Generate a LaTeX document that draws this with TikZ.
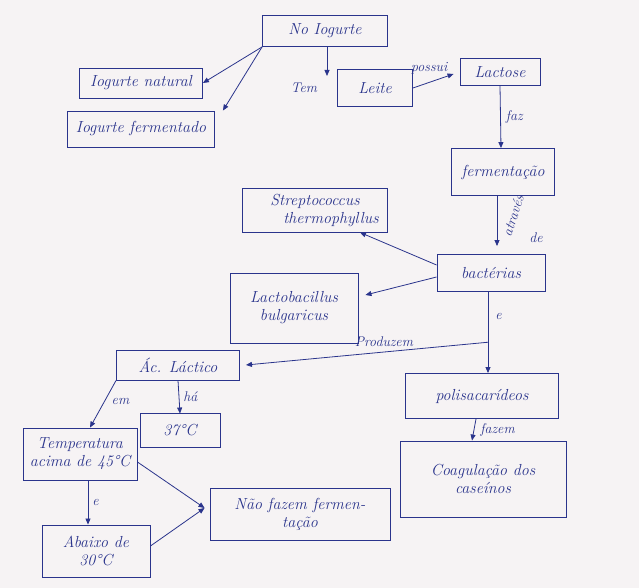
\documentclass[tikz,border=0pt]{standalone}
\usetikzlibrary{arrows.meta}
\definecolor{ink}{RGB}{42,52,140}
\definecolor{paper}{RGB}{246,243,244}
\begin{document}
\begin{tikzpicture}[x=1pt,y=-1pt,
  box/.style={draw=ink, line width=0.9pt, rectangle, inner sep=2pt, align=center, text=ink,
    font=\itshape\fontsize{16}{18}\selectfont},
  lbl/.style={text=ink, inner sep=1pt, align=center, font=\itshape\fontsize{14}{15}\selectfont},
  arr/.style={draw=ink, line width=0.8pt, -{Triangle[length=6pt,width=5pt]}},
  ln/.style={draw=ink, line width=0.8pt}]
\fill[paper] (0,0) rectangle (639,588);
\useasboundingbox (0,0) rectangle (639,588);
% nodes
\node[box, minimum width=125pt, minimum height=31pt] (nog) at (325,31) {No Iogurte};
\node[box, minimum width=123pt, minimum height=30pt] (nat) at (141,83) {Iogurte natural};
\node[box, minimum width=147pt, minimum height=36pt] (fer) at (141,129) {Iogurte fermentado};
\node[lbl] (tem) at (304,88) {Tem};
\node[box, minimum width=75pt, minimum height=37pt] (lei) at (375,88) {Leite};
\node[box, minimum width=80pt, minimum height=27pt] (lac) at (500,72) {Lactose};
\node[box, minimum width=103pt, minimum height=47pt] (fmt) at (503,172) {fermentação};
\node[box, minimum width=108pt, minimum height=37pt] (bac) at (491,273) {bactérias};
\node[box, minimum width=145pt, minimum height=44pt] (str) at (315,210) {Streptococcus\\\hspace*{2em}thermophyllus};
\node[box, minimum width=128pt, minimum height=70pt] (lcb) at (294,308) {Lactobacillus\\bulgaricus};
\node[box, minimum width=123pt, minimum height=30pt] (acl) at (178,365) {Ác. Láctico};
\node[box, minimum width=153pt, minimum height=45pt] (pol) at (482,396) {polisacarídeos};
\node[box, minimum width=166pt, minimum height=76pt] (coa) at (483,479) {Coagulação dos\\caseínos};
\node[box, minimum width=114pt, minimum height=52pt] (tmp) at (80,454) {Temperatura\\acima de 45°C};
\node[box, minimum width=80pt, minimum height=34pt] (t37) at (180,430) {37°C};
\node[box, minimum width=180pt, minimum height=52pt] (nao) at (300,514) {Não fazem fermen-\\tação};
\node[box, minimum width=108pt, minimum height=52pt] (aba) at (96,551) {Abaixo de\\30°C};
\node[lbl, rotate=72] (atr) at (513,216) {através};
\node[lbl] (atd) at (536,238) {de};
% connectors
\draw[arr] (nog.south west) -- (nat.east);
\draw[arr] (nog.south west) -- ([xshift=8pt]fer.north east);
\draw[arr] ([xshift=2pt]nog.south) -- ([xshift=2pt,yshift=6pt]nog.south |- tem.north);
\draw[arr] (lei.east) -- node[lbl, above=7pt, pos=0.4] {possui} ([xshift=-6pt,yshift=-2pt]lac.west);
\draw[arr] (lac.south) -- node[lbl, right=4pt] {faz} ([xshift=-2pt]fmt.north);
\draw[arr] ([xshift=-6pt]fmt.south) -- ([xshift=6pt,yshift=8pt]bac.north);
\draw[arr] ([yshift=8pt]bac.west) -- ([xshift=45pt]str.south);
\draw[arr] ([yshift=-4pt]bac.west) -- ([xshift=7pt,yshift=13pt]lcb.east);
\coordinate (b1) at ([xshift=-3pt]bac.south);
\coordinate (p1) at ([xshift=6pt]pol.north);
\draw[arr] (b1) -- node[lbl, right=6pt, pos=0.3] {e} coordinate[pos=0.62] (jn) (p1);
\draw[arr] (jn) -- node[lbl, above=4pt, pos=0.43] {Produzem} ([xshift=6pt]acl.east);
\draw[arr] ([xshift=-6pt]pol.south) -- node[lbl, right=5pt] {fazem} ([xshift=-11pt]coa.north);
\draw[arr] (acl.south west) -- node[lbl, right=6pt, pos=0.45] {em} ([xshift=10pt]tmp.north);
\draw[arr] (acl.south) -- node[lbl, right=3pt] {há} ([yshift=-1pt]t37.north);
\draw[arr] ([yshift=-8pt]tmp.east) -- ([xshift=-5pt,yshift=6pt]nao.west);
\draw[arr] ([xshift=8pt]tmp.south) -- node[lbl, right=3pt] {e} ([xshift=-8pt]aba.north);
\draw[arr] ([yshift=5pt]aba.east) -- ([xshift=-5pt,yshift=6pt]nao.west);
\end{tikzpicture}
\end{document}
